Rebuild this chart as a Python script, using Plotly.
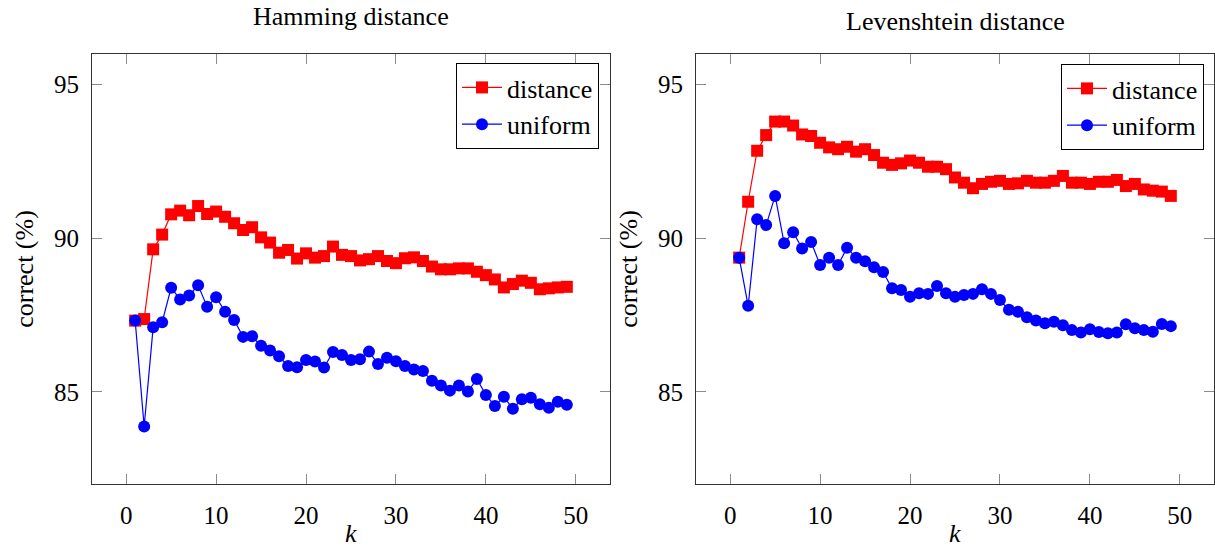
import plotly.graph_objects as go

k = list(range(1, 50))

ham_distance = [87.32, 87.37, 89.64, 90.12, 90.78, 90.90, 90.75, 91.05, 90.79, 90.87,
                90.70, 90.49, 90.27, 90.36, 90.03, 89.86, 89.53, 89.62, 89.34, 89.51,
                89.37, 89.42, 89.73, 89.46, 89.42, 89.28, 89.32, 89.42, 89.26, 89.19,
                89.35, 89.38, 89.26, 89.08, 88.99, 88.99, 89.02, 89.02, 88.91, 88.80,
                88.66, 88.40, 88.51, 88.62, 88.55, 88.34, 88.37, 88.40, 88.42]
ham_uniform = [87.32, 83.87, 87.10, 87.27, 88.39, 88.01, 88.14, 88.47, 87.77, 88.08,
               87.61, 87.34, 86.79, 86.81, 86.50, 86.35, 86.16, 85.84, 85.80, 86.04,
               85.99, 85.79, 86.30, 86.20, 86.04, 86.06, 86.31, 85.91, 86.11, 86.00,
               85.84, 85.73, 85.68, 85.36, 85.21, 85.04, 85.21, 85.01, 85.42, 84.90,
               84.54, 84.84, 84.45, 84.76, 84.81, 84.60, 84.48, 84.68, 84.58]
lev_distance = [89.37, 91.19, 92.85, 93.36, 93.80, 93.80, 93.67, 93.38, 93.33, 93.11,
                92.96, 92.90, 92.98, 92.82, 92.90, 92.71, 92.46, 92.39, 92.44, 92.53,
                92.46, 92.33, 92.33, 92.25, 91.98, 91.81, 91.63, 91.77, 91.84, 91.87,
                91.77, 91.79, 91.87, 91.81, 91.81, 91.87, 92.03, 91.81, 91.81, 91.77,
                91.84, 91.84, 91.90, 91.70, 91.77, 91.59, 91.55, 91.52, 91.38]
lev_uniform = [89.37, 87.80, 90.62, 90.43, 91.38, 89.84, 90.20, 89.67, 89.88, 89.13,
               89.37, 89.13, 89.69, 89.37, 89.25, 89.06, 88.90, 88.37, 88.32, 88.10,
               88.21, 88.19, 88.45, 88.21, 88.10, 88.15, 88.19, 88.34, 88.19, 87.99,
               87.67, 87.61, 87.43, 87.32, 87.23, 87.28, 87.17, 87.01, 86.93, 87.04,
               86.95, 86.91, 86.93, 87.20, 87.07, 87.01, 86.96, 87.21, 87.14]

titles = ["Hamming distance", "Levenshtein distance"]
series_names = ["distance", "uniform"]
x_title = "<i>k</i>"
y_title = "correct (%)"
x_ticks = [0, 10, 20, 30, 40, 50]
y_ticks = [85, 90, 95]

FONT = "Liberation Serif"
W, H = 1215, 551
RED = "#ff0000"
BLUE = "#0000ff"

fig = go.Figure()

def add_pair(dist, unif, xa, ya, leg):
    fig.add_trace(go.Scatter(x=k, y=dist, name=series_names[0], mode="lines+markers",
                             line=dict(color=RED, width=1.2),
                             marker=dict(symbol="square", size=12, color=RED),
                             xaxis=xa, yaxis=ya, legend=leg))
    fig.add_trace(go.Scatter(x=k, y=unif, name=series_names[1], mode="lines+markers",
                             line=dict(color=BLUE, width=1.2),
                             marker=dict(symbol="circle", size=12, color=BLUE),
                             xaxis=xa, yaxis=ya, legend=leg))

add_pair(ham_distance, ham_uniform, "x", "y", "legend")
add_pair(lev_distance, lev_uniform, "x2", "y2", "legend2")

ydom = [1 - 484 / H, 1 - 54 / H]
common_x = dict(range=[-3.8, 53.8], tickvals=x_ticks, ticks="inside", ticklen=10,
                tickcolor="#8c8c8c", tickwidth=1, showline=True, linecolor="#333333",
                linewidth=1, mirror="ticks", showgrid=False, zeroline=False,
                automargin=False,
                tickfont=dict(family=FONT, size=25, color="black"),
                ticklabelstandoff=9)
common_y = dict(range=[82, 96], tickvals=y_ticks, ticks="inside", ticklen=10,
                tickcolor="#8c8c8c", tickwidth=1, showline=True, linecolor="#333333",
                linewidth=1, mirror="ticks", showgrid=False, zeroline=False,
                automargin=False,
                tickfont=dict(family=FONT, size=25, color="black"),
                ticklabelstandoff=7,
                title=dict(text=y_title, font=dict(family=FONT, size=26, color="black"),
                           standoff=12))

legend_common = dict(bgcolor="white", bordercolor="black", borderwidth=1,
                     font=dict(family=FONT, size=26, color="black"),
                     xanchor="right", yanchor="top", itemwidth=40,
                     tracegroupgap=0)

def text_ann(text, x, y, size=26, yanchor="middle"):
    return dict(text=text, x=x / W, y=1 - y / H, xref="paper", yref="paper",
                xanchor="center", yanchor=yanchor, showarrow=False,
                font=dict(family=FONT, size=size, color="black"))

fig.update_layout(
    width=W, height=H,
    font=dict(family=FONT, size=25, color="black"),
    margin=dict(l=0, r=0, t=0, b=0),
    paper_bgcolor="white", plot_bgcolor="white",
    xaxis=dict(domain=[92 / W, 610 / W], anchor="y", **common_x),
    yaxis=dict(domain=ydom, anchor="x", **common_y),
    xaxis2=dict(domain=[696 / W, 1214 / W], anchor="y2", **common_x),
    yaxis2=dict(domain=ydom, anchor="x2", **common_y),
    legend=dict(x=599 / W, y=1 - 63 / H, **legend_common),
    legend2=dict(x=1204 / W, y=1 - 64 / H, **legend_common),
    annotations=[
        text_ann(titles[0], 351, 16),
        text_ann(titles[1], 955, 22),
        text_ann(x_title, 351, 550, 26, "bottom"),
        text_ann(x_title, 955, 550, 26, "bottom"),
    ],
)

fig.write_html("out.html")
